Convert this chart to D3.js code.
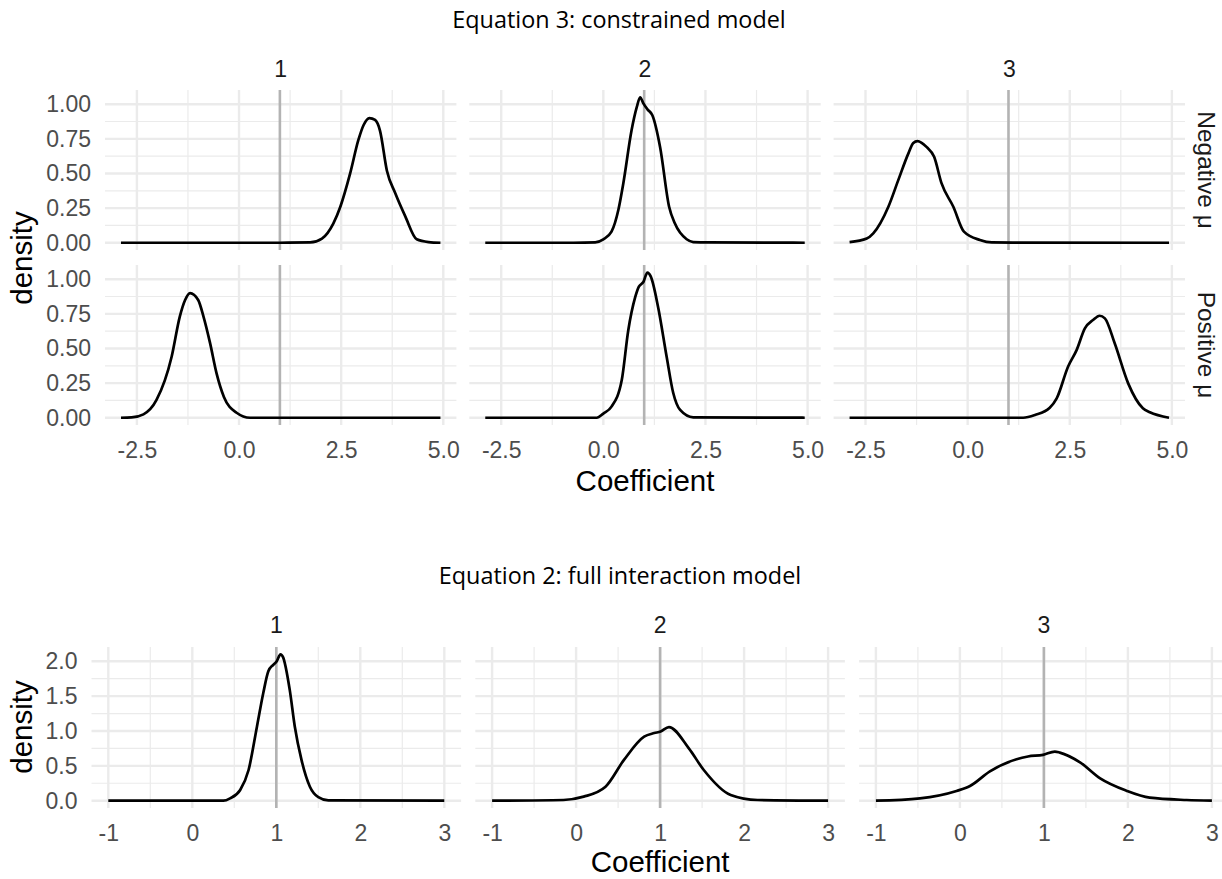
<!DOCTYPE html>
<html>
<head>
<meta charset="utf-8">
<script src="https://cdn.jsdelivr.net/npm/d3@7"></script>
<style>
  body { margin: 0; background: #fff; }
  svg text { font-family: "Liberation Sans", Arial, sans-serif; }
</style>
</head>
<body>
<div id="chart"></div>
<script>
// Values: [coefficient, density] pairs

// Equation 3: constrained model
const eq3Cols = ["1", "2", "3"];
const eq3Rows = ["Negative μ", "Positive μ"];
const eq3XTicks = [-2.5, 0, 2.5, 5];
const eq3XMinor = [-1.25, 1.25, 3.75];
const eq3YTicks = [0, 0.25, 0.5, 0.75, 1];
const eq3YMinor = [0.125, 0.375, 0.625, 0.875];
const eq3Truth = 1;

const eq3Neg1 = [[-2.89,0],[1.0,0],[1.74,0.002],[2.03,0.03],[2.31,0.14],[2.48,0.26],[2.72,0.50],[2.92,0.74],[3.05,0.85],[3.19,0.90],[3.33,0.886],[3.45,0.81],[3.62,0.52],[3.82,0.36],[4.07,0.19],[4.35,0.025],[4.64,0.005],[4.93,0]];
const eq3Neg2 = [[-2.89,0],[-0.73,0],[-0.20,0.003],[0.0,0.025],[0.20,0.08],[0.37,0.24],[0.49,0.43],[0.69,0.81],[0.82,0.98],[0.90,1.05],[0.98,1.006],[1.08,0.963],[1.20,0.92],[1.39,0.69],[1.61,0.26],[1.75,0.14],[2.04,0.025],[2.20,0.005],[2.57,0.002],[4.93,0]];
const eq3Neg3 = [[-2.89,0.004],[-2.47,0.03],[-2.31,0.068],[-1.94,0.26],[-1.70,0.45],[-1.45,0.645],[-1.33,0.72],[-1.23,0.734],[-1.00,0.69],[-0.82,0.62],[-0.64,0.43],[-0.35,0.26],[-0.09,0.08],[0.30,0.02],[0.59,0.002],[1.11,0.001],[4.93,0]];
const eq3Pos1 = [[-2.89,0],[-2.63,0.002],[-2.34,0.024],[-2.02,0.128],[-1.65,0.44],[-1.45,0.73],[-1.32,0.85],[-1.20,0.90],[-1.00,0.85],[-0.87,0.73],[-0.71,0.54],[-0.55,0.32],[-0.37,0.15],[-0.06,0.036],[0.27,0.0],[4.93,0]];
const eq3Pos2 = [[-2.89,0],[-0.16,0],[0.0,0.03],[0.20,0.08],[0.45,0.27],[0.61,0.63],[0.78,0.87],[0.87,0.946],[0.98,0.98],[1.08,1.047],[1.16,1.02],[1.34,0.80],[1.55,0.44],[1.71,0.18],[1.88,0.056],[2.20,0.003],[4.93,0]];
const eq3Pos3 = [[-2.89,0],[1.36,0],[1.65,0.02],[2.01,0.072],[2.18,0.14],[2.46,0.37],[2.67,0.49],[2.87,0.645],[3.07,0.705],[3.23,0.736],[3.36,0.717],[3.60,0.537],[3.93,0.248],[4.29,0.068],[4.46,0.039],[4.93,0]];

// Equation 2: full interaction model
const eq2Cols = ["1", "2", "3"];
const eq2XTicks = [-1, 0, 1, 2, 3];
const eq2XMinor = [-0.5, 0.5, 1.5, 2.5];
const eq2YTicks = [0, 0.5, 1, 1.5, 2];
const eq2YMinor = [0.25, 0.75, 1.25, 1.75];
const eq2Truth = 1;

const eq2P1 = [[-1,0],[0.37,0],[0.45,0.034],[0.57,0.154],[0.67,0.44],[0.77,1.065],[0.845,1.545],[0.905,1.856],[0.964,1.95],[1.005,2.0],[1.05,2.10],[1.08,2.06],[1.16,1.59],[1.22,1.065],[1.30,0.585],[1.40,0.20],[1.50,0.05],[1.62,0.003],[3,0]];
const eq2P2 = [[-1,0],[-0.15,0.01],[0.09,0.058],[0.35,0.20],[0.57,0.585],[0.81,0.92],[0.93,0.97],[1.006,0.993],[1.105,1.056],[1.34,0.754],[1.52,0.44],[1.84,0.082],[2.16,0.01],[3,0]];
const eq2P3 = [[-1,0],[-0.476,0.034],[-0.04,0.14],[0.12,0.21],[0.357,0.42],[0.675,0.595],[0.81,0.634],[0.99,0.658],[1.13,0.705],[1.19,0.69],[1.43,0.55],[1.67,0.32],[1.98,0.144],[2.26,0.043],[2.70,0.01],[3,0]];

const width = 1222;
const height = 879;
const gridColor = "#EBEBEB";
const tickColor = "#4D4D4D";
const noMinus = f => d => f(d).replace("\u2212", "-");

const svg = d3.select("#chart")
              .append("svg")
              .attr("width", width)
              .attr("height", height);

// ggplot style: 5% expansion on each side of the data range
function expand(lo, hi) {
  const pad = (hi - lo) * 0.05;
  return [lo - pad, hi + pad];
}

function facetGrid(cfg) {
  const x = d3.scaleLinear().domain(expand(...cfg.xRange)).range([0, cfg.panelW]);
  const y = d3.scaleLinear().domain(expand(0, cfg.yMax)).range([cfg.panelH, 0]);
  const line = d3.line()
                 .x(d => x(d[0]))
                 .y(d => y(d[1]))
                 .curve(d3.curveMonotoneX);

  cfg.series.forEach((row, r) => {
    row.forEach((pts, c) => {
      const px = cfg.left + c * (cfg.panelW + cfg.gapX);
      const py = cfg.rowTops[r];
      const g = svg.append("g").attr("transform", `translate(${px},${py})`);

      // minor grid
      g.selectAll(".vminor").data(cfg.xMinor).enter().append("line")
        .attr("x1", d => x(d)).attr("x2", d => x(d))
        .attr("y1", 0).attr("y2", cfg.panelH)
        .attr("stroke", gridColor).attr("stroke-width", 1.2);
      g.selectAll(".hminor").data(cfg.yMinor).enter().append("line")
        .attr("x1", 0).attr("x2", cfg.panelW)
        .attr("y1", d => y(d)).attr("y2", d => y(d))
        .attr("stroke", gridColor).attr("stroke-width", 1.2);
      // major grid
      g.selectAll(".vmajor").data(cfg.xTicks).enter().append("line")
        .attr("x1", d => x(d)).attr("x2", d => x(d))
        .attr("y1", 0).attr("y2", cfg.panelH)
        .attr("stroke", gridColor).attr("stroke-width", 2.4);
      g.selectAll(".hmajor").data(cfg.yTicks).enter().append("line")
        .attr("x1", 0).attr("x2", cfg.panelW)
        .attr("y1", d => y(d)).attr("y2", d => y(d))
        .attr("stroke", gridColor).attr("stroke-width", 2.4);

      // true value
      g.append("line")
        .attr("x1", x(cfg.truth)).attr("x2", x(cfg.truth))
        .attr("y1", 0).attr("y2", cfg.panelH)
        .attr("stroke", "#B3B3B3").attr("stroke-width", 2.6);

      g.append("path")
        .datum(pts)
        .attr("d", line)
        .attr("fill", "none")
        .attr("stroke", "#000")
        .attr("stroke-width", 2.7)
        .attr("stroke-linejoin", "round");

      // column strip
      if (r === 0) {
        g.append("text")
          .attr("x", cfg.panelW / 2).attr("y", cfg.stripY - py)
          .attr("text-anchor", "middle")
          .attr("font-size", 23).attr("fill", "#1A1A1A")
          .text(cfg.cols[c]);
      }
      // row strip
      if (cfg.rows && c === row.length - 1) {
        g.append("text")
          .attr("transform", `translate(${cfg.panelW + cfg.rowStripDx},${cfg.panelH / 2}) rotate(90)`)
          .attr("text-anchor", "middle")
          .attr("font-size", 24.5).attr("fill", "#1A1A1A")
          .text(cfg.rows[r]);
      }
      // y axis on first column
      if (c === 0) {
        const ya = g.append("g")
          .call(d3.axisLeft(y).tickValues(cfg.yTicks).tickFormat(cfg.yFmt).tickSize(0).tickPadding(14));
        ya.select(".domain").remove();
        ya.selectAll("text").attr("font-size", 23).attr("fill", tickColor)
          .style("font-family", "'Liberation Sans', Arial, sans-serif");
      }
      // x axis on last row
      if (r === cfg.series.length - 1) {
        const xa = g.append("g")
          .attr("transform", `translate(0,${cfg.panelH})`)
          .call(d3.axisBottom(x).tickValues(cfg.xTicks).tickFormat(cfg.xFmt).tickSize(0).tickPadding(17));
        xa.select(".domain").remove();
        xa.selectAll("text").attr("font-size", 23).attr("fill", tickColor)
          .style("font-family", "'Liberation Sans', Arial, sans-serif");
      }
    });
  });

  // axis titles and chart title
  const last = cfg.series[0].length;
  const fullW = last * cfg.panelW + (last - 1) * cfg.gapX;
  svg.append("text")
    .attr("x", cfg.left + fullW / 2).attr("y", cfg.xTitleY)
    .attr("text-anchor", "middle")
    .attr("font-size", 29.5).attr("fill", "#000")
    .text("Coefficient");
  svg.append("text")
    .attr("transform", `translate(${cfg.yTitleX},${cfg.yTitleY}) rotate(-90)`)
    .attr("text-anchor", "middle")
    .attr("font-size", 29.5).attr("fill", "#000")
    .text("density");
  svg.append("text")
    .attr("x", cfg.titleX).attr("y", cfg.titleY)
    .attr("text-anchor", "middle")
    .style("font-family", "'Open Sans', 'Noto Sans', sans-serif")
    .attr("font-size", 23.4).attr("fill", "#000")
    .text(cfg.title);
}

facetGrid({
  title: "Equation 3: constrained model",
  titleX: 619, titleY: 28,
  cols: eq3Cols, rows: eq3Rows,
  series: [[eq3Neg1, eq3Neg2, eq3Neg3], [eq3Pos1, eq3Pos2, eq3Pos3]],
  xRange: [-2.89, 4.93], yMax: 1.05,
  xTicks: eq3XTicks, xMinor: eq3XMinor,
  yTicks: eq3YTicks, yMinor: eq3YMinor,
  xFmt: noMinus(d3.format(".1f")), yFmt: d3.format(".2f"),
  truth: eq3Truth,
  left: 105, panelW: 351.4, gapX: 12.9, panelH: 160, rowTops: [90, 265],
  stripY: 77, rowStripDx: 13,
  xTitleY: 491, yTitleX: 32, yTitleY: 258
});

facetGrid({
  title: "Equation 2: full interaction model",
  titleX: 620, titleY: 584,
  cols: eq2Cols, rows: null,
  series: [[eq2P1, eq2P2, eq2P3]],
  xRange: [-1, 3], yMax: 2.1,
  xTicks: eq2XTicks, xMinor: eq2XMinor,
  yTicks: eq2YTicks, yMinor: eq2YMinor,
  xFmt: noMinus(d3.format("d")), yFmt: d3.format(".1f"),
  truth: eq2Truth,
  left: 91.5, panelW: 369.6, gapX: 14.2, panelH: 161, rowTops: [647],
  stripY: 633, rowStripDx: 13,
  xTitleY: 872, yTitleX: 32, yTitleY: 727
});
</script>
</body>
</html>
